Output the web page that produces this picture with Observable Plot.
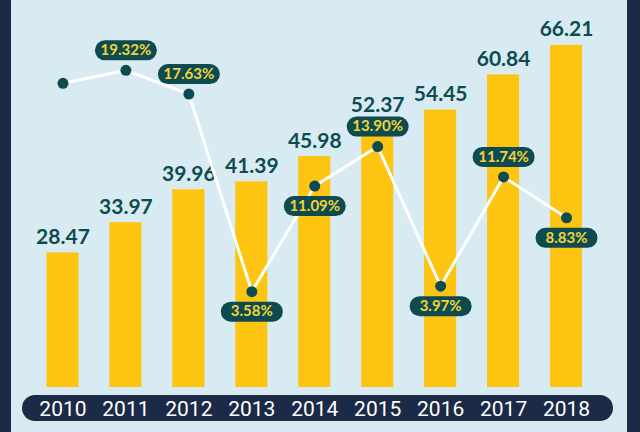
<!DOCTYPE html>
<html>
<head>
<meta charset="utf-8">
<script src="https://cdn.jsdelivr.net/npm/d3@7"></script>
<script src="https://cdn.jsdelivr.net/npm/@observablehq/plot@0.6"></script>
<style>
  html, body { margin: 0; padding: 0; background: #d8ebf3; }
  #wrap { position: relative; width: 640px; height: 432px; background: #d8ebf3; overflow: hidden; }
  #wrap > * { position: absolute; left: 0; top: 0; }
  .strip { background: #1b2a47; }
  svg { background: transparent !important; overflow: visible; }
</style>
</head>
<body>
<div id="wrap">
  <div class="strip" style="left:0;top:0;width:11px;height:432px"></div>
  <div class="strip" style="left:627px;top:0;width:13px;height:432px"></div>
  <div id="bars"></div>
  <div class="strip" style="left:22px;top:395px;width:591px;height:26px;border-radius:13px"></div>
  <div id="line"></div>
</div>
<script>
const years = ["2010","2011","2012","2013","2014","2015","2016","2017","2018"];
const values = [28.47, 33.97, 39.96, 41.39, 45.98, 52.37, 54.45, 60.84, 66.21];
const growth = [18.4, 19.32, 17.63, 3.58, 11.09, 13.90, 3.97, 11.74, 8.83];
const labelled = ["2011","2012","2013","2014","2015","2016","2017","2018"];
const belowYears = new Set(["2013","2014","2016","2018"]);

const barData = years.map((y, i) => ({year: y, value: values[i]}));
const lineData = years.map((y, i) => ({year: y, growth: growth[i]}));
const labelData = lineData.filter(d => labelled.includes(d.year));
const above = labelData.filter(d => !belowYears.has(d.year));
const below = labelData.filter(d => belowYears.has(d.year));

const teal = "#0e4b50";
const yellow = "#fdc412";
const pillText = "#f3d335";
const fmt = d => d3.format(".2f")(d.growth) + "%";

const pill = {
  draw(ctx) {
    const w = 31, h = 10;
    ctx.moveTo(-w + h, -h);
    ctx.lineTo(w - h, -h);
    ctx.arc(w - h, 0, h, -Math.PI / 2, Math.PI / 2);
    ctx.lineTo(-w + h, h);
    ctx.arc(-w + h, 0, h, Math.PI / 2, 3 * Math.PI / 2);
    ctx.closePath();
  }
};

const xRange = [31, 597.5];

const barsPlot = Plot.plot({
  width: 640,
  height: 432,
  marginTop: 0,
  marginLeft: 31,
  marginRight: 42.5,
  marginBottom: 45,
  style: {background: "transparent", overflow: "visible"},
  x: {type: "band", domain: years, range: xRange, paddingInner: 0.49, paddingOuter: 0.245, round: false, axis: null},
  y: {domain: [0, 70], range: [409, 24], axis: null},
  marks: [
    Plot.barY(barData, {x: "year", y: "value", fill: yellow, clip: true}),
    Plot.text(barData, {
      x: "year", y: "value", text: d => d3.format(".2f")(d.value),
      dy: -9, lineAnchor: "bottom", fill: teal,
      fontSize: 21, fontWeight: "bold", fontFamily: "Lato, 'Open Sans', sans-serif"
    })
  ]
});
document.getElementById("bars").appendChild(barsPlot);

const linePlot = Plot.plot({
  width: 640,
  height: 432,
  marginTop: 0,
  marginLeft: 31,
  marginRight: 42.5,
  marginBottom: 34,
  style: {background: "transparent", overflow: "visible", fontFamily: "Roboto, sans-serif"},
  x: {type: "point", domain: years, range: xRange, padding: 0.5, round: false},
  y: {domain: [0, 20], range: [341.5, 60.3], axis: null},
  marks: [
    Plot.axisX({anchor: "bottom", tickSize: 0, tickPadding: 3, fontSize: 21, color: "white", label: null, fontFamily: "Roboto, sans-serif"}),
    Plot.line(lineData, {x: "year", y: "growth", stroke: "white", strokeWidth: 3}),
    Plot.dot(lineData, {x: "year", y: "growth", r: 5.5, fill: teal, stroke: "none"}),
    Plot.dot(above, {x: "year", y: "growth", symbol: pill, fill: teal, stroke: "none", dy: -20}),
    Plot.dot(below, {x: "year", y: "growth", symbol: pill, fill: teal, stroke: "none", dy: 20}),
    Plot.text(above, {x: "year", y: "growth", text: fmt, dy: -20, fill: pillText, fontSize: 15, fontWeight: "bold", fontFamily: "Lato, 'Open Sans', sans-serif"}),
    Plot.text(below, {x: "year", y: "growth", text: fmt, dy: 20, fill: pillText, fontSize: 15, fontWeight: "bold", fontFamily: "Lato, 'Open Sans', sans-serif"})
  ]
});
document.getElementById("line").appendChild(linePlot);
</script>
</body>
</html>
